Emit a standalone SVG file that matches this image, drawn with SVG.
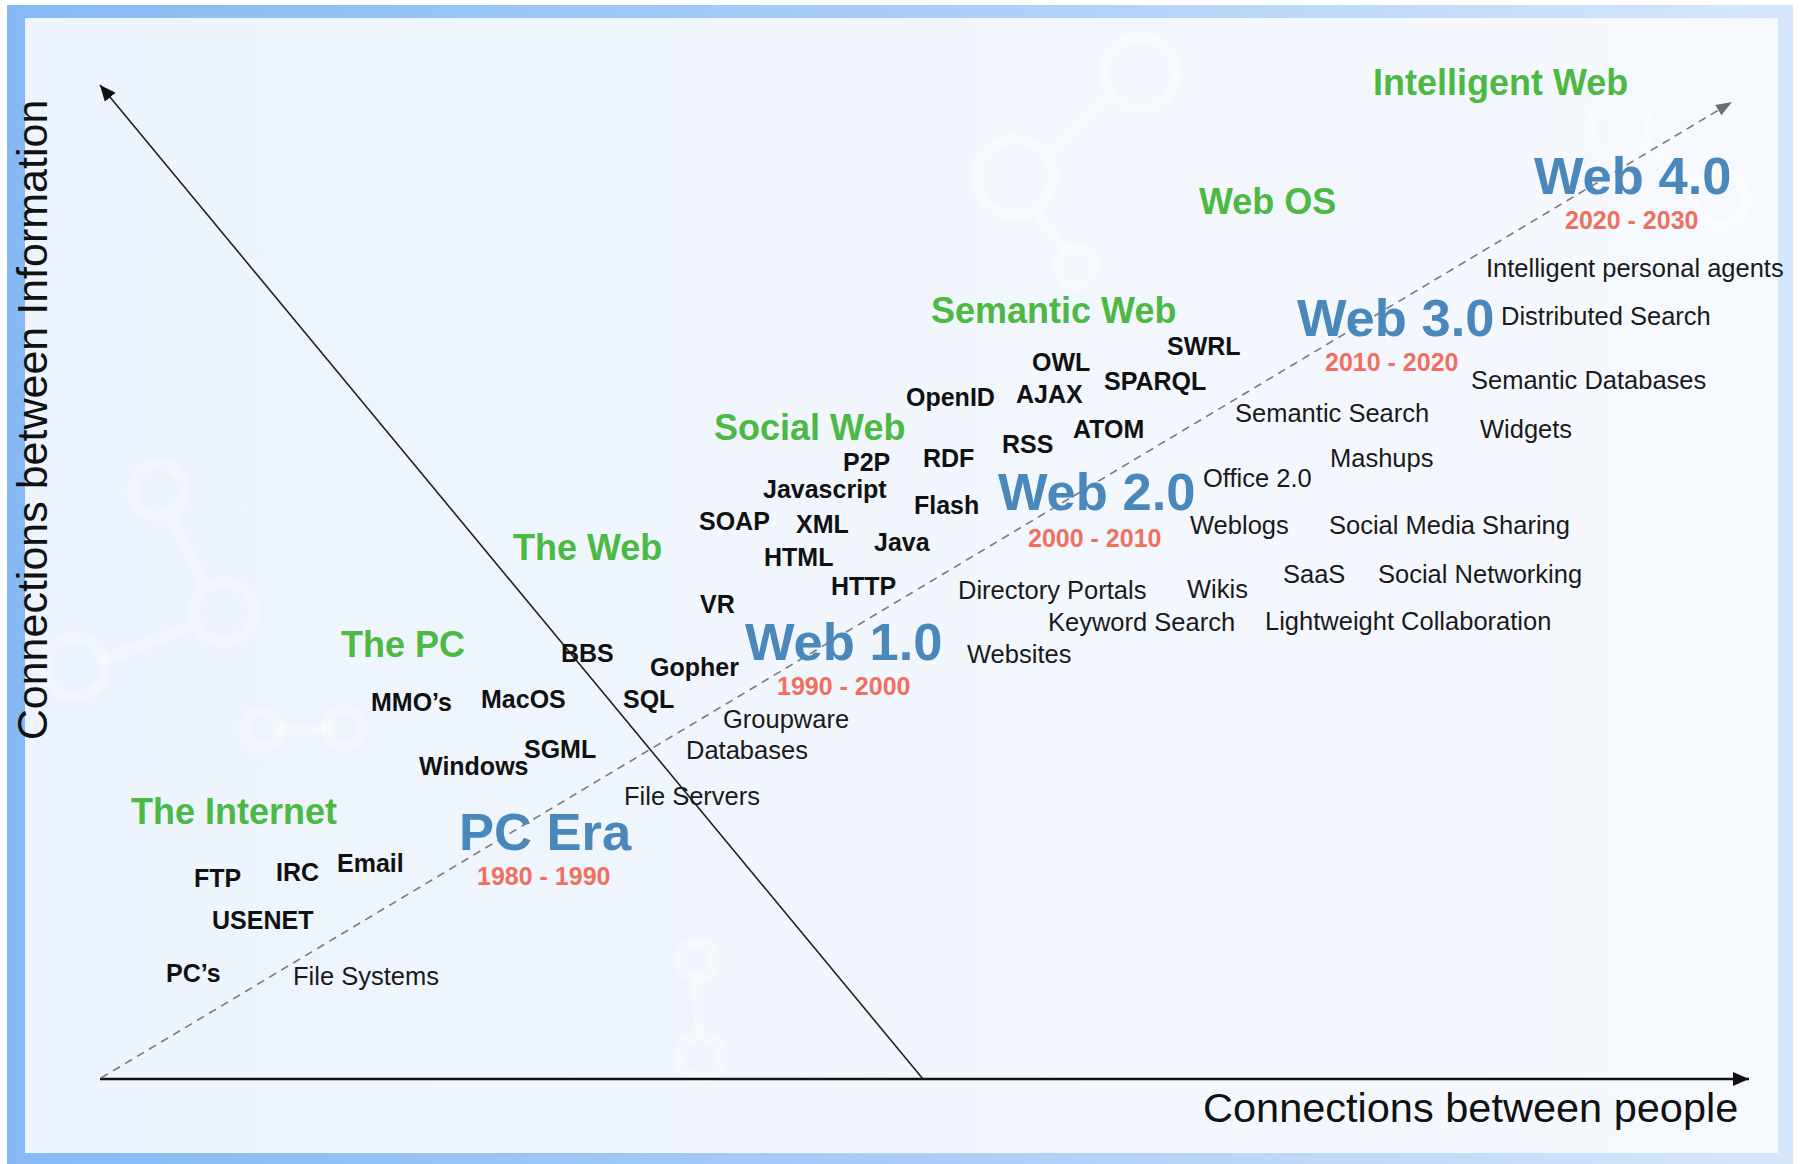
<svg xmlns="http://www.w3.org/2000/svg" width="1802" height="1164" viewBox="0 0 1802 1164">
<defs>
<linearGradient id="band" x1="0" y1="0" x2="1" y2="0">
<stop offset="0" stop-color="#86b9f4"/>
<stop offset="0.5" stop-color="#a9cdf8"/>
<stop offset="1" stop-color="#d6e6fb"/>
</linearGradient>
<linearGradient id="panel" x1="0" y1="0" x2="1" y2="0">
<stop offset="0" stop-color="#edf4fd"/>
<stop offset="1" stop-color="#f6f9fe"/>
</linearGradient>
<marker id="arrBlack" markerUnits="userSpaceOnUse" markerWidth="18" markerHeight="16" refX="16" refY="7" orient="auto">
<path d="M0,0 L16,7 L0,14 Z" fill="#111"/>
</marker>
<marker id="arrGray" markerUnits="userSpaceOnUse" markerWidth="18" markerHeight="14" refX="16" refY="6" orient="auto">
<path d="M0,0 L16,6 L0,12 Z" fill="#6e6e6e"/>
</marker>
<style>
text{font-family:"Liberation Sans",Arial,Helvetica,sans-serif;}
.g{fill:#4cb944;font-weight:bold;font-size:36px;}
.w{fill:#4a87bb;font-weight:bold;font-size:52.5px;}
.y{fill:#f0705f;font-weight:bold;font-size:25px;}
.b{fill:#111;font-weight:bold;font-size:25px;}
.r{fill:#1a1a1a;font-size:25.5px;}
.ax{fill:#111;font-size:41.5px;}
.mol{fill:none;stroke:#ffffff;stroke-opacity:0.3;stroke-width:11;}
</style>
</defs>

<g id="frame">
<rect x="7" y="5" width="1786" height="1159" fill="url(#band)"/>
<rect x="25" y="18" width="1753" height="1135" fill="url(#panel)"/>
</g>

<g id="background-pattern">
<circle class="mol" cx="158" cy="490" r="26"/>
<circle class="mol" cx="224" cy="612" r="30"/>
<circle class="mol" cx="75" cy="667" r="30"/>
<path class="mol" d="M170,514 L205,585 M196,625 L102,660"/>
<circle class="mol" cx="262" cy="730" r="18"/>
<circle class="mol" cx="345" cy="728" r="18"/>
<path class="mol" d="M280,730 L327,728"/>
<circle class="mol" cx="1140" cy="73" r="36"/>
<circle class="mol" cx="1015" cy="177" r="38"/>
<circle class="mol" cx="1076" cy="267" r="18"/>
<path class="mol" d="M1110,95 L1050,155 M1035,210 L1065,250"/>
<circle class="mol" cx="697" cy="960" r="17"/>
<circle class="mol" cx="701" cy="1057" r="21"/>
<path class="mol" d="M698,977 L700,1036"/>
<circle class="mol" cx="1620" cy="130" r="30"/>
<circle class="mol" cx="1720" cy="200" r="26"/>
<path class="mol" d="M1645,145 L1696,185"/>
</g>

<g id="connectors">
<line x1="100" y1="1079" x2="1749" y2="1079" stroke="#111" stroke-width="2.6" marker-end="url(#arrBlack)"/>
<line x1="923" y1="1079" x2="100" y2="85" stroke="#222" stroke-width="1.6" marker-end="url(#arrBlack)"/>
<line x1="101" y1="1078" x2="1732" y2="102" stroke="#7a7a7a" stroke-width="1.6" stroke-dasharray="8,6" marker-end="url(#arrGray)"/>
</g>

<g id="axis-labels">
<text id="y-axis-label" class="ax" style="font-size:43px" transform="translate(47,420) rotate(-90)" text-anchor="middle">Connections between Information</text>
<text id="x-axis-label" class="ax" x="1203" y="1122">Connections between people</text>
</g>

<g id="eras">
<g id="pc-era"><text class="w" x="459" y="850">PC Era</text><text class="y" x="477" y="885">1980 - 1990</text></g>
<g id="web1"><text class="w" x="745" y="660">Web 1.0</text><text class="y" x="777" y="695">1990 - 2000</text></g>
<g id="web2"><text class="w" x="998" y="510">Web 2.0</text><text class="y" x="1028" y="547">2000 - 2010</text></g>
<g id="web3"><text class="w" x="1297" y="336">Web 3.0</text><text class="y" x="1325" y="371">2010 - 2020</text></g>
<g id="web4"><text class="w" x="1534" y="194">Web 4.0</text><text class="y" x="1565" y="229">2020 - 2030</text></g>
</g>

<g id="phases">
<g id="the-internet"><text class="g" x="131" y="824">The Internet</text></g>
<g id="the-pc"><text class="g" x="341" y="657">The PC</text></g>
<g id="the-web"><text class="g" x="513" y="560">The Web</text></g>
<g id="social-web"><text class="g" x="714" y="440">Social Web</text></g>
<g id="semantic-web"><text class="g" x="931" y="323">Semantic Web</text></g>
<g id="web-os"><text class="g" x="1199" y="214">Web OS</text></g>
<g id="intelligent-web"><text class="g" x="1373" y="95">Intelligent Web</text></g>
</g>

<g id="technologies">
<g id="ftp"><text class="b" x="194" y="887">FTP</text></g>
<g id="irc"><text class="b" x="276" y="881">IRC</text></g>
<g id="email"><text class="b" x="337" y="872">Email</text></g>
<g id="usenet"><text class="b" x="212" y="929">USENET</text></g>
<g id="pcs"><text class="b" x="166" y="982">PC’s</text></g>
<g id="mmos"><text class="b" x="371" y="711">MMO’s</text></g>
<g id="macos"><text class="b" x="481" y="708">MacOS</text></g>
<g id="bbs"><text class="b" x="561" y="662">BBS</text></g>
<g id="sgml"><text class="b" x="524" y="758">SGML</text></g>
<g id="windows"><text class="b" x="419" y="775">Windows</text></g>
<g id="gopher"><text class="b" x="650" y="676">Gopher</text></g>
<g id="sql"><text class="b" x="623" y="708">SQL</text></g>
<g id="vr"><text class="b" x="700" y="613">VR</text></g>
<g id="http"><text class="b" x="831" y="595">HTTP</text></g>
<g id="html"><text class="b" x="764" y="566">HTML</text></g>
<g id="java"><text class="b" x="874" y="551">Java</text></g>
<g id="soap"><text class="b" x="699" y="530">SOAP</text></g>
<g id="xml"><text class="b" x="796" y="533">XML</text></g>
<g id="flash"><text class="b" x="914" y="514">Flash</text></g>
<g id="javascript"><text class="b" x="763" y="498">Javascript</text></g>
<g id="p2p"><text class="b" x="843" y="471">P2P</text></g>
<g id="rdf"><text class="b" x="923" y="467">RDF</text></g>
<g id="rss"><text class="b" x="1002" y="453">RSS</text></g>
<g id="atom"><text class="b" x="1073" y="438">ATOM</text></g>
<g id="openid"><text class="b" x="906" y="406">OpenID</text></g>
<g id="ajax"><text class="b" x="1016" y="403">AJAX</text></g>
<g id="owl"><text class="b" x="1032" y="371">OWL</text></g>
<g id="sparql"><text class="b" x="1104" y="390">SPARQL</text></g>
<g id="swrl"><text class="b" x="1167" y="355">SWRL</text></g>
</g>

<g id="applications">
<g id="file-systems"><text class="r" x="293" y="985">File Systems</text></g>
<g id="file-servers"><text class="r" x="624" y="805">File Servers</text></g>
<g id="databases"><text class="r" x="686" y="759">Databases</text></g>
<g id="groupware"><text class="r" x="723" y="728">Groupware</text></g>
<g id="websites"><text class="r" x="967" y="663">Websites</text></g>
<g id="keyword-search"><text class="r" x="1048" y="631">Keyword Search</text></g>
<g id="directory-portals"><text class="r" x="958" y="599">Directory Portals</text></g>
<g id="wikis"><text class="r" x="1187" y="598">Wikis</text></g>
<g id="weblogs"><text class="r" x="1190" y="534">Weblogs</text></g>
<g id="office20"><text class="r" x="1203" y="487">Office 2.0</text></g>
<g id="lightweight-collaboration"><text class="r" x="1265" y="630">Lightweight Collaboration</text></g>
<g id="saas"><text class="r" x="1283" y="583">SaaS</text></g>
<g id="social-networking"><text class="r" x="1378" y="583">Social Networking</text></g>
<g id="social-media-sharing"><text class="r" x="1329" y="534">Social Media Sharing</text></g>
<g id="mashups"><text class="r" x="1330" y="467">Mashups</text></g>
<g id="semantic-search"><text class="r" x="1235" y="422">Semantic Search</text></g>
<g id="widgets"><text class="r" x="1480" y="438">Widgets</text></g>
<g id="semantic-databases"><text class="r" x="1471" y="389">Semantic Databases</text></g>
<g id="distributed-search"><text class="r" x="1501" y="325">Distributed Search</text></g>
<g id="intelligent-personal-agents"><text class="r" x="1486" y="277">Intelligent personal agents</text></g>
</g>
</svg>
